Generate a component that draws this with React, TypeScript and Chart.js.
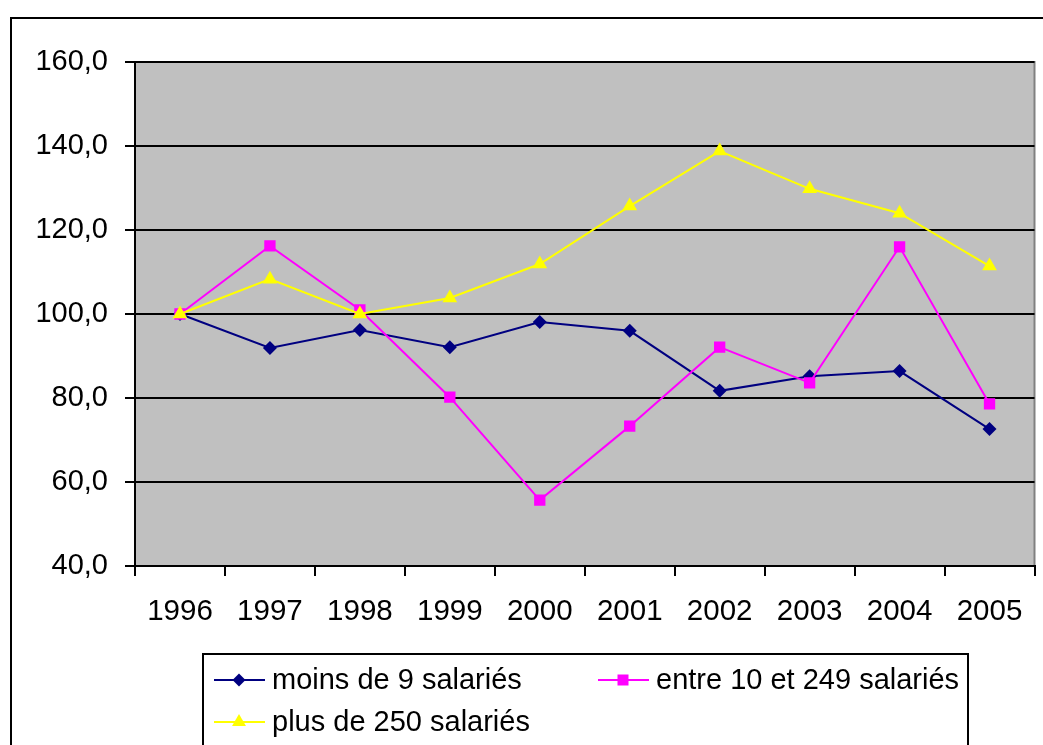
import React, { useEffect, useRef } from "react";
import { Chart, registerables } from "chart.js";

Chart.register(...registerables);

const years = ["1996", "1997", "1998", "1999", "2000", "2001", "2002", "2003", "2004", "2005"];
const moins9 = [100, 91.9, 96.2, 92.1, 98.1, 96.0, 81.7, 85.2, 86.4, 72.6];
const entre10et249 = [100, 116.2, 101.0, 80.2, 55.7, 73.3, 92.1, 83.6, 116.0, 78.6];
const plus250 = [100, 108.3, 100, 103.8, 111.9, 125.7, 138.8, 129.8, 124.0, 111.4];
const seriesLabels = ["moins de 9 salariés", "entre 10 et 249 salariés", "plus de 250 salariés"];
const seriesColors = ["#000080", "#FF00FF", "#FFFF00"];
const seriesShapes = ["rectRot", "rect", "triangle"];

const FONT = "'Liberation Sans', Arial, sans-serif";

function drawMarker(ctx: CanvasRenderingContext2D, shape: string, x: number, y: number, color: string) {
  ctx.save();
  ctx.fillStyle = color;
  ctx.beginPath();
  if (shape === "rectRot") {
    const r = 6.5;
    ctx.moveTo(x - r, y);
    ctx.lineTo(x, y - r);
    ctx.lineTo(x + r, y);
    ctx.lineTo(x, y + r);
    ctx.closePath();
  } else if (shape === "rect") {
    const s = 5.5;
    ctx.rect(x - s, y - s, 2 * s, 2 * s);
  } else {
    const r = 8;
    ctx.moveTo(x, y - r);
    ctx.lineTo(x + r * 0.87, y + r * 0.5);
    ctx.lineTo(x - r * 0.87, y + r * 0.5);
    ctx.closePath();
  }
  ctx.fill();
  ctx.restore();
}

const decorPlugin = {
  id: "decor",
  beforeDraw(chart: any) {
    const { ctx, chartArea } = chart;
    ctx.save();
    ctx.fillStyle = "#C0C0C0";
    ctx.fillRect(chartArea.left, chartArea.top, chartArea.right - chartArea.left, chartArea.bottom - chartArea.top);
    ctx.strokeStyle = "#808080";
    ctx.lineWidth = 2;
    ctx.beginPath();
    ctx.moveTo(chartArea.left, chartArea.top);
    ctx.lineTo(chartArea.right, chartArea.top);
    ctx.lineTo(chartArea.right, chartArea.bottom);
    ctx.stroke();
    ctx.restore();
  },
  afterDraw(chart: any) {
    const { ctx } = chart;
    ctx.save();
    ctx.strokeStyle = "#000000";
    ctx.lineWidth = 2;
    ctx.strokeRect(11, 18, 1200, 1000);
    ctx.strokeRect(203, 654, 765, 200);
    const entries = [
      { x: 214, y: 680 },
      { x: 598, y: 680 },
      { x: 214, y: 722 },
    ];
    ctx.font = "29px " + FONT;
    ctx.textBaseline = "middle";
    ctx.textAlign = "left";
    entries.forEach((e, i) => {
      ctx.strokeStyle = seriesColors[i];
      ctx.lineWidth = 2;
      ctx.beginPath();
      ctx.moveTo(e.x, e.y);
      ctx.lineTo(e.x + 51, e.y);
      ctx.stroke();
      drawMarker(ctx, seriesShapes[i], e.x + 25, e.y, seriesColors[i]);
      ctx.fillStyle = "#000000";
      ctx.fillText(chart.data.datasets[i].label, e.x + 58, e.y + 1);
    });
    ctx.restore();
  },
};

export default function App() {
  const canvasRef = useRef<HTMLCanvasElement | null>(null);

  useEffect(() => {
    if (!canvasRef.current) return;
    const datasets = [moins9, entre10et249, plus250].map((d, i) => ({
      label: seriesLabels[i],
      data: d,
      borderColor: seriesColors[i],
      backgroundColor: seriesColors[i],
      pointBackgroundColor: seriesColors[i],
      pointBorderColor: seriesColors[i],
      pointBorderWidth: 0,
      pointStyle: seriesShapes[i],
      pointRadius: i === 0 ? 7 : i === 1 ? 8 : 8.5,
      borderWidth: 2,
      tension: 0,
      order: 2 - i,
    }));
    const chart = new Chart(canvasRef.current, {
      type: "line",
      data: { labels: years, datasets },
      plugins: [decorPlugin],
      options: {
        animation: false,
        responsive: true,
        maintainAspectRatio: false,
        layout: { padding: { left: 0, right: 2, top: 62, bottom: 119 } },
        plugins: { legend: { display: false }, tooltip: { enabled: false } },
        scales: {
          x: {
            offset: true,
            afterFit: (s: any) => {
              s.height = 60;
            },
            grid: {
              offset: true,
              drawOnChartArea: false,
              drawTicks: true,
              tickLength: 10,
              color: "#000000",
              lineWidth: 2,
            },
            border: { display: true, color: "#000000", width: 2 },
            ticks: {
              color: "#000000",
              font: { family: FONT, size: 29.5 },
              padding: 18,
              maxRotation: 0,
              autoSkip: false,
            },
          },
          y: {
            min: 40,
            max: 160,
            afterFit: (s: any) => {
              s.width = 135;
            },
            grid: {
              color: "#000000",
              lineWidth: 2,
              drawTicks: true,
              tickLength: 10,
            },
            border: { display: true, color: "#000000", width: 2 },
            ticks: {
              stepSize: 20,
              color: "#000000",
              font: { family: FONT, size: 29 },
              padding: 17,
              callback: (v: any) => Number(v).toFixed(1).replace(".", ","),
            },
          },
        },
      },
    });
    return () => chart.destroy();
  }, []);

  return (
    <div style={{ position: "absolute", left: 0, top: 0, width: 1043, height: 745, overflow: "hidden", background: "#FFFFFF" }}>
      <canvas ref={canvasRef} />
    </div>
  );
}
